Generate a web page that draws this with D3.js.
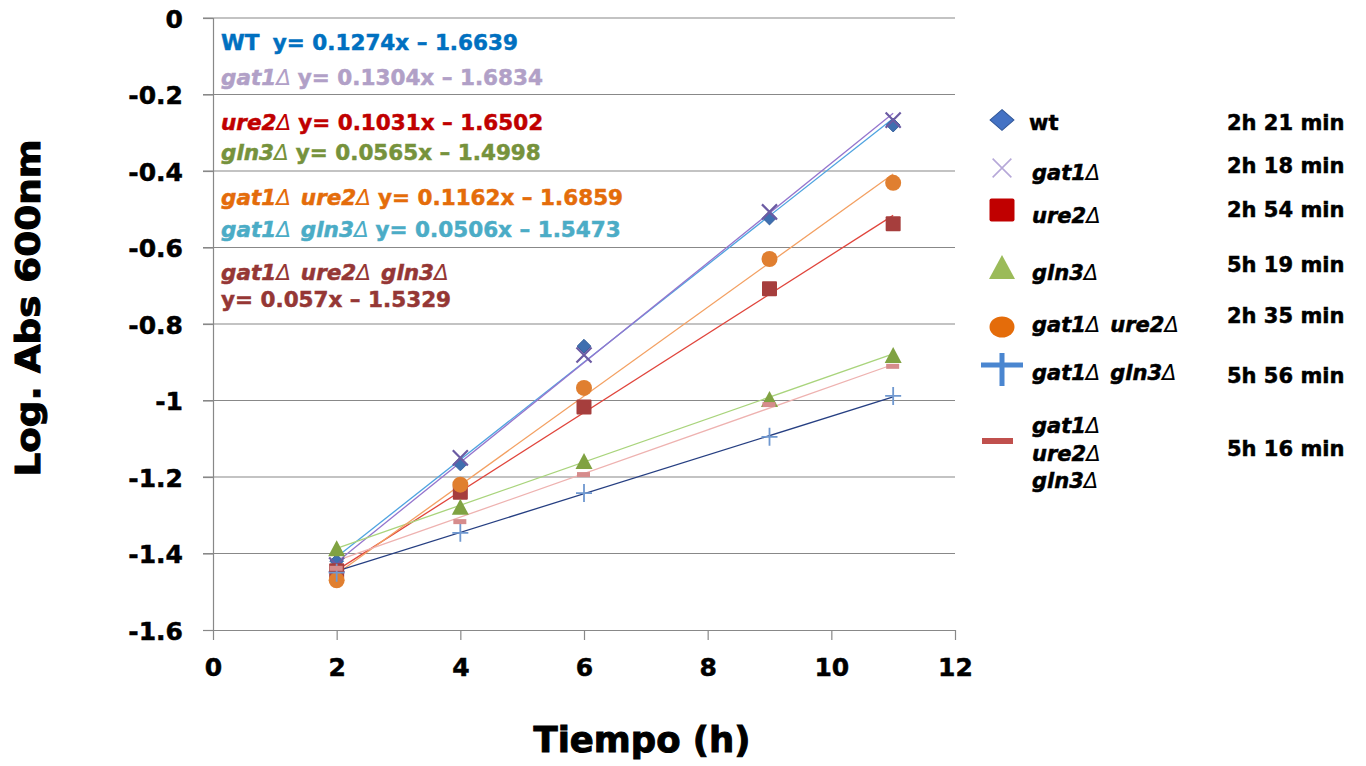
<!DOCTYPE html>
<html>
<head>
<meta charset="utf-8">
<script src="https://cdn.jsdelivr.net/npm/d3@7"></script>
<style>
  body { margin: 0; background: #fff; }
  svg text { font-family: "DejaVu Sans", sans-serif; font-weight: bold; }
</style>
</head>
<body>
<svg width="1366" height="766"></svg>
<script>
// sampling times (h)
var times = [2, 4, 6, 9, 11];

var strains = ["wt", "gat1Δ", "ure2Δ", "gln3Δ", "gat1Δ ure2Δ", "gat1Δ gln3Δ", "gat1Δ ure2Δ gln3Δ"];

// log Abs 600nm, one array per strain
var wtVals       = [-1.42, -1.166, -0.858, -0.523, -0.28];
var gat1Vals     = [-1.43, -1.15, -0.881, -0.507, -0.267];
var ure2Vals     = [-1.445, -1.24, -1.017, -0.708, -0.538];
var gln3Vals     = [-1.386, -1.278, -1.158, -0.996, -0.881];
var gat1ure2Vals = [-1.47, -1.22, -0.967, -0.63, -0.431];
var gat1gln3Vals = [-1.45, -1.346, -1.242, -1.095, -0.988];
var tripleVals   = [-1.44, -1.318, -1.195, -1.012, -0.912];

// trendline equations printed on the chart
var slopes     = [0.1274, 0.1304, 0.1031, 0.0565, 0.1162, 0.0506, 0.057];
var intercepts = [-1.6639, -1.6834, -1.6502, -1.4998, -1.6859, -1.5473, -1.5329];

var doublingTimes = ["2h 21 min", "2h 18 min", "2h 54 min", "5h 19 min", "2h 35 min", "5h 56 min", "5h 16 min"];

var xTicks = [0, 2, 4, 6, 8, 10, 12];
var yTicks = [0, -0.2, -0.4, -0.6, -0.8, -1, -1.2, -1.4, -1.6];

var svg = d3.select("svg");

var x = d3.scaleLinear().domain([0, 12]).range([213, 955]);
var y = d3.scaleLinear().domain([-1.6, 0]).range([630, 18]);

var allVals = [wtVals, gat1Vals, ure2Vals, gln3Vals, gat1ure2Vals, gat1gln3Vals, tripleVals];

var series = strains.map(function(name, i) {
  return {
    name: name,
    slope: slopes[i],
    icpt: intercepts[i],
    dt: doublingTimes[i],
    points: times.map(function(t, j) { return {t: t, v: allVals[i][j]}; })
  };
});

var lineCols   = ["#4ea3e0", "#9575cd", "#e0453c", "#a9d47c", "#f3a062", "#263f82", "#eeb2b0"];
var markCols   = ["#3f6fb0", "#6b5ba3", "#a63e3d", "#80a242", "#e07f30", "#6f98d0", "#d68c8c"];
var legendCols = ["#4472c4", "#b6a8d8", "#c00000", "#9bbb59", "#e46c0a", "#4a86d0", "#c0504d"];
var eqCols     = ["#0070c0", "#b1a0c7", "#c00000", "#76923c", "#e46c0a", "#4bacc6", "#953735"];

// thicken the bold face a little, the original uses a very heavy font
function heavy(sel, col, w) {
  return sel.attr("fill", col).attr("stroke", col).attr("stroke-width", w || 0.5);
}

// grid
svg.append("g").selectAll("line")
  .data(yTicks.filter(function(d) { return d > -1.6; }))
  .enter().append("line")
  .attr("x1", 203).attr("x2", x(12))
  .attr("y1", function(d) { return y(d); })
  .attr("y2", function(d) { return y(d); })
  .attr("stroke", "#888").attr("stroke-width", 1.2);

// axes
var yAxis = svg.append("g")
  .attr("transform", "translate(" + x(0) + ",0)")
  .call(d3.axisLeft(y).tickValues(yTicks).tickSize(10).tickPadding(20)
    .tickFormat(function(d) { return d === 0 ? "0" : String(+d.toFixed(1)); }));

var xAxis = svg.append("g")
  .attr("transform", "translate(0," + y(-1.6) + ")")
  .call(d3.axisBottom(x).tickValues(xTicks).tickSize(10).tickPadding(18)
    .tickFormat(d3.format("d")));

[yAxis, xAxis].forEach(function(a) {
  a.selectAll("path").attr("stroke", "#888").attr("stroke-width", 1.2);
  a.selectAll("line").attr("stroke", "#888").attr("stroke-width", 1.2);
  heavy(a.selectAll("text"), "#000").style("font-size", "25px")
    .style("font-family", "DejaVu Sans").style("font-weight", "bold");
});
xAxis.select("path").attr("d", "M203,0.5H" + x(12));
yAxis.selectAll(".tick text").attr("dy", "0.36em");

// axis titles
heavy(svg.append("text"), "#000", 1)
  .attr("x", 642).attr("y", 752)
  .attr("text-anchor", "middle")
  .attr("textLength", 217).attr("lengthAdjust", "spacingAndGlyphs")
  .style("font-size", "36px")
  .text("Tiempo (h)");

heavy(svg.append("text"), "#000", 1)
  .attr("transform", "translate(40,308) rotate(-90)")
  .attr("text-anchor", "middle")
  .attr("textLength", 337).attr("lengthAdjust", "spacingAndGlyphs")
  .style("font-size", "33px")
  .text("Log. Abs 600nm");

// trendlines
svg.append("g").selectAll("line")
  .data(series)
  .enter().append("line")
  .attr("x1", x(times[0]))
  .attr("x2", x(times[times.length - 1]))
  .attr("y1", function(d) { return y(d.slope * times[0] + d.icpt); })
  .attr("y2", function(d) { return y(d.slope * times[times.length - 1] + d.icpt); })
  .attr("stroke", function(d, i) { return lineCols[i]; })
  .attr("stroke-width", 1.3);

// markers
function drawMarker(g, i, col, big) {
  if (i === 0) {
    g.append("path").attr("d", d3.symbol(d3.symbolDiamond2, big ? 300 : 120)())
      .attr("transform", big ? "scale(1.1,0.95)" : null)
      .attr("fill", col).attr("stroke", big ? "#2f5597" : "#35609c").attr("stroke-width", 1);
  } else if (i === 1) {
    g.append("path").attr("d", d3.symbol(d3.symbolTimes, big ? 230 : 150)())
      .attr("fill", "none").attr("stroke", col).attr("stroke-width", big ? 1.6 : 2.2);
  } else if (i === 2) {
    var w = big ? 25 : 15;
    g.append("rect").attr("x", -w / 2).attr("y", big ? -11.5 : -7.5)
      .attr("width", w).attr("height", big ? 23 : 15)
      .attr("rx", big ? 2 : 1)
      .attr("fill", col);
  } else if (i === 3) {
    var tw = big ? 13 : 8.5, th = big ? 12 : 8;
    g.append("path").attr("d", "M0," + (-th) + "L" + tw + "," + th + "L" + (-tw) + "," + th + "Z")
      .attr("fill", col);
  } else if (i === 4) {
    g.append("ellipse").attr("rx", big ? 12.5 : 8).attr("ry", big ? 10.5 : 8)
      .attr("fill", col);
  } else if (i === 5) {
    g.append("path")
      .attr("d", big ? "M-21,0H21M0,-12V21" : "M-8,0H8M0,-9V9")
      .attr("fill", "none").attr("stroke", col).attr("stroke-width", big ? 5 : 1.8);
  } else {
    g.append("rect").attr("x", big ? -20 : -7).attr("y", -3)
      .attr("width", big ? 31 : 13).attr("height", big ? 6 : 5)
      .attr("fill", col);
  }
}

series.forEach(function(s, i) {
  svg.append("g").selectAll("g")
    .data(s.points)
    .enter().append("g")
    .attr("transform", function(d) { return "translate(" + x(d.t) + "," + y(d.v) + ")"; })
    .each(function() { drawMarker(d3.select(this), i, markCols[i], false); });
});

// italic gene names, with a thin delta like the original
function geneName(t, name) {
  name.split(" ").forEach(function(word, k) {
    var gene = word.replace("Δ", "");
    t.append("tspan").attr("dx", k ? 10 : null).style("font-style", "italic").text(gene);
    t.append("tspan").style("font-style", "italic").style("font-weight", "normal")
      .attr("stroke-width", 0).text("Δ");
  });
}

// equation labels
var eqBase = [50, 85, 130, 160, 205, 237, 280];
var eq = svg.append("g").style("font-size", "21.5px");
series.forEach(function(s, i) {
  var formula = "y= " + s.slope + "x \u2013 " + Math.abs(s.icpt);
  var t = heavy(eq.append("text"), eqCols[i]).attr("x", 221).attr("y", eqBase[i]);
  if (i === 0) {
    t.append("tspan").text("WT");
    t.append("tspan").attr("dx", 16).text(formula);
  } else if (i < 6) {
    geneName(t, s.name);
    t.append("tspan").attr("dx", 7).text(formula);
  } else {
    geneName(t, s.name);
    heavy(eq.append("text"), eqCols[i]).attr("x", 221).attr("y", eqBase[i] + 27).text(formula);
  }
});

// legend
var legY    = [120, 168, 210, 267, 327, 365, 441];
var legText = [130, 180, 223, 280, 332, 380, 433];
var dtY     = [130, 173, 217, 272, 323, 383, 456];
var leg = svg.append("g").style("font-size", "21px");
series.forEach(function(s, i) {
  var g = leg.append("g").attr("transform", "translate(1002," + legY[i] + ")");
  drawMarker(g, i, legendCols[i], true);
  var lines = i === 6 ? s.name.split(" ") : [s.name];
  lines.forEach(function(l, k) {
    var t = heavy(leg.append("text"), "#000")
      .attr("x", i === 0 ? 1029 : 1032)
      .attr("y", legText[i] + k * 27.5);
    if (i === 0) t.text(l);
    else geneName(t, l);
  });
  heavy(leg.append("text"), "#000").attr("x", 1227).attr("y", dtY[i]).text(s.dt);
});
</script>
</body>
</html>
